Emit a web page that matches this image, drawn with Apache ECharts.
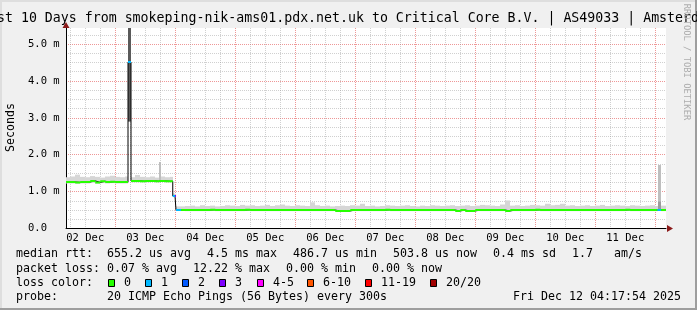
<!DOCTYPE html>
<html><head><meta charset="utf-8">
<script src="https://cdn.jsdelivr.net/npm/echarts@6/dist/echarts.min.js"></script>
<style>html,body{margin:0;padding:0;background:#f0f0f0}#c{width:697px;height:310px}</style>
</head><body><div id="c"></div>
<script>
// ---- time axis: hours since Dec 02 00:00 ----
const startHour = 4.298;   // Dec 02 04:17:54
const endHour = 244.298;   // Dec 12 04:17:54
const dayLabels = ['02 Dec','03 Dec','04 Dec','05 Dec','06 Dec','07 Dec','08 Dec','09 Dec','10 Dec','11 Dec'];
const dayLabelHours = [12,36,60,84,108,132,156,180,204,228];
const midnightHours = [24,48,72,96,120,144,168,192,216,240];
const sixHourHours = [6,12,18,30,36,42,54,60,66,78,84,90,102,108,114,126,132,138,150,156,162,174,180,186,198,204,210,222,228,234];

// ---- value axis (milliseconds) ----
const yMax = 5.434;
const yLabelValues = [0,1,2,3,4,5];
const yLabelTexts = ['0.0','1.0 m','2.0 m','3.0 m','4.0 m','5.0 m'];
const yMajor = [1,2,3,4,5];
const yMinor = [0.25,0.5,0.75,1.25,1.5,1.75,2.25,2.5,2.75,3.25,3.5,3.75,4.25,4.5,4.75,5.25];

// ---- samples ----
const sampleHours = [
  4.298,6,8,10,12,14,16,18,20,22,24,26,28,
  29.1,
  30.3,32,34,36,38,40,41.5,42.3,44,46,
  47.0,47.9,48.3,
  50.3,
  52,54,56,58,60,62,64,66,68,70,
  72,74,76,78,80,82,84,86,88,90,
  92,94,96,98,100,102,104,106,108,110,
  112,114,116,118,120,122,124,126,128,130,
  132,134,136,138,140,142,144,146,148,150,
  152,154,156,158,160,162,164,166,168,170,
  172,174,176,178,180,182,184,186,188,190,
  192,194,196,198,200,202,204,206,208,210,
  212,214,216,218,220,222,224,226,228,230,
  232,234,236,238,240,
  240.9,242.3
];
const medianMs = [
  1.26,1.26,1.25,1.26,1.26,1.29,1.25,1.28,1.26,1.27,1.26,1.26,1.26,
  4.51,
  1.29,1.29,1.28,1.29,1.29,1.28,1.29,1.29,1.28,1.28,
  0.88,0.88,0.50,
  0.50,
  0.50,0.50,0.50,0.50,0.50,0.51,0.50,0.50,0.50,0.50,
  0.50,0.50,0.51,0.50,0.50,0.50,0.50,0.50,0.50,0.50,
  0.50,0.50,0.50,0.50,0.50,0.50,0.50,0.50,0.50,0.50,
  0.475,0.475,0.475,0.50,0.50,0.50,0.50,0.50,0.50,0.50,
  0.51,0.50,0.50,0.50,0.50,0.50,0.50,0.50,0.50,0.50,
  0.50,0.50,0.50,0.50,0.475,0.50,0.475,0.475,0.50,0.50,
  0.50,0.50,0.50,0.50,0.475,0.50,0.50,0.50,0.50,0.50,
  0.51,0.50,0.50,0.50,0.50,0.50,0.50,0.50,0.50,0.50,
  0.50,0.50,0.50,0.50,0.50,0.50,0.50,0.50,0.51,0.50,
  0.50,0.50,0.50,0.50,0.50,
  0.50,0.50
];
const lossCount = [
  0,0,0,0,0,0,0,0,0,0,0,0,0,
  1,
  0,0,0,0,0,0,0,0,0,0,
  1,3,1,
  0,
  0,0,0,0,0,0,0,0,0,0, 0,0,0,0,0,0,0,0,0,0,
  0,0,0,0,0,0,0,0,0,0, 0,0,0,0,0,0,0,0,0,0,
  0,0,0,0,0,0,0,0,0,0, 0,0,0,0,0,0,0,0,0,0,
  0,0,0,0,0,0,0,0,0,0, 0,0,0,0,0,0,0,0,0,0,
  0,0,0,0,0,0,0,0,0,0, 0,0,0,0,0,
  1,0
];
const smokeLoMs = [
  1.22,1.22,1.21,1.22,1.22,1.24,1.21,1.23,1.22,1.23,1.22,1.22,1.22,
  2.90,
  1.25,1.25,1.25,1.25,1.26,1.25,1.25,1.26,1.25,1.25,
  0.85,0.86,0.48,
  0.48,
  0.47,0.47,0.47,0.47,0.47,0.48,0.47,0.47,0.47,0.47,
  0.47,0.47,0.48,0.47,0.47,0.47,0.47,0.47,0.47,0.47,
  0.47,0.47,0.47,0.47,0.47,0.47,0.47,0.47,0.47,0.47,
  0.46,0.46,0.46,0.47,0.47,0.47,0.47,0.47,0.47,0.47,
  0.48,0.47,0.47,0.47,0.47,0.47,0.47,0.47,0.47,0.47,
  0.47,0.47,0.47,0.47,0.46,0.47,0.46,0.46,0.47,0.47,
  0.47,0.47,0.47,0.47,0.46,0.47,0.47,0.47,0.47,0.47,
  0.48,0.47,0.47,0.47,0.47,0.47,0.47,0.47,0.47,0.47,
  0.47,0.47,0.47,0.47,0.47,0.47,0.47,0.47,0.48,0.47,
  0.47,0.47,0.47,0.47,0.47,
  0.48,0.47
];
const smokeHiMs = [
  1.39,1.41,1.46,1.40,1.39,1.42,1.40,1.38,1.41,1.43,1.40,1.39,1.41,
  5.60,
  1.39,1.45,1.40,1.39,1.41,1.38,1.80,1.41,1.39,1.40,
  0.95,0.93,0.60,
  0.60,
  0.61,0.62,0.60,0.63,0.61,0.62,0.60,0.61,0.63,0.62,
  0.61,0.64,0.62,0.63,0.61,0.62,0.64,0.61,0.63,0.65,
  0.62,0.61,0.63,0.62,0.61,0.71,0.63,0.61,0.62,0.60,
  0.61,0.62,0.61,0.63,0.62,0.67,0.61,0.62,0.60,0.61,
  0.63,0.62,0.61,0.62,0.63,0.61,0.60,0.62,0.61,0.63,
  0.62,0.61,0.62,0.63,0.61,0.62,0.63,0.61,0.62,0.64,
  0.63,0.62,0.61,0.65,0.76,0.62,0.63,0.61,0.62,0.64,
  0.63,0.62,0.67,0.63,0.64,0.67,0.62,0.63,0.61,0.62,
  0.63,0.61,0.62,0.64,0.61,0.62,0.63,0.62,0.61,0.63,
  0.62,0.61,0.62,0.63,0.61,
  1.72,0.62
];
// dense (darker) core of the smoke where it stands out
const smokeCoreMs = sampleHours.map(() => null);
smokeCoreMs[13] = 5.60;
smokeCoreMs[sampleHours.length - 2] = 0.73;

const lossClassColors = ['#26ff00','#00b8ff','#0059ff','#7e00ff','#ff00ff','#ff5500','#ff0000','#a10000'];
const lossClassNames = ['0','1','2','3','4-5','6-10','11-19','20/20'];
function lossClass(n){ if(n<=3) return n; if(n<=5) return 4; if(n<=10) return 5; if(n<=19) return 6; return 7; }

// ---- build series data from the arrays ----
const N = sampleHours.length;
const nextHour = i => (i + 1 < N ? sampleHours[i + 1] : endHour);
const smokeData = [];
for (let i = 0; i < N; i++) smokeData.push([sampleHours[i], nextHour(i), smokeLoMs[i], smokeHiMs[i], smokeCoreMs[i] == null ? '-' : smokeCoreMs[i]]);
const medianPts = sampleHours.map((t, i) => [t, medianMs[i]]);
medianPts.push([endHour, medianMs[N - 1]]);
const lossSeriesData = lossClassColors.map(() => []);
for (let i = 0; i < N; i++) {
  const d = lossSeriesData[lossClass(lossCount[i])];
  d.push([sampleHours[i], medianMs[i]]); d.push([nextHour(i), medianMs[i]]); d.push([nextHour(i), null]);
}

const MONO = 'DejaVu Sans Mono';
const MGRID = 'rgba(222,48,48,0.5)';
const GRID = 'rgba(143,143,143,0.42)';

function smokeItem(params, api) {
  const t0 = api.value(0), t1 = api.value(1), lo = api.value(2), hi = api.value(3), core = api.value(4);
  const cs = params.coordSys;
  const clip = { x: cs.x, y: cs.y, width: cs.width, height: cs.height };
  const mk = (a, b, color) => {
    const p0 = api.coord([t0, b]), p1 = api.coord([t1, a]);
    const x0 = Math.round(p0[0]), x1 = Math.round(p1[0]);
    const r = echarts.graphic.clipRectByRect({ x: x0, y: p0[1], width: x1 - x0, height: p1[1] - p0[1] }, clip);
    return r ? { type: 'rect', shape: r, style: { fill: color } } : null;
  };
  const children = [];
  const outer = mk(lo, hi, hi - lo > 0.5 ? '#bebebe' : '#d6d6d6');
  if (outer) children.push(outer);
  if (!isNaN(core)) { const c = mk(lo, core, core - lo > 1 ? '#5a5a5a' : '#9c9c9c'); if (c) children.push(c); }
  return { type: 'group', children };
}

const series = [
  { type: 'custom', name: 'smoke', renderItem: smokeItem, data: smokeData, encode: { x: [0, 1], y: [2, 3] }, z: 2, silent: true },
  { type: 'line', name: 'median', data: medianPts, step: 'end', symbol: 'none', lineStyle: { color: '#000', width: 1 }, z: 3, silent: true,
    markPoint: { symbol: 'triangle', silent: true, animation: false, label: { show: false }, data: [
      { coord: [endHour, 0], symbolSize: [7, 6], symbolRotate: -90, symbolOffset: [4, 0], itemStyle: { color: '#8b1a1a' } },
      { coord: [startHour, yMax], symbolSize: [7, 6], symbolOffset: [0, -3], itemStyle: { color: '#8b1a1a' } }
    ] } }
];
lossSeriesData.forEach((d, c) => {
  if (!d.length) return;
  series.push({ type: 'line', name: 'loss ' + lossClassNames[c], data: d, symbol: 'none', connectNulls: false,
    lineStyle: { color: lossClassColors[c], width: 2 }, z: 4, silent: true });
});

// ---- legend / texts ----
const legendRows = [
  { y: 254, items: [[16, 'median rtt:'], [107, '655.2 us avg'], [207, '4.5 ms max'], [293, '486.7 us min'], [393, '503.8 us now'], [493, '0.4 ms sd'], [572, '1.7'], [614, 'am/s']] },
  { y: 268.5, items: [[16, 'packet loss:'], [107, '0.07 % avg'], [193, '12.22 % max'], [286, '0.00 % min'], [372, '0.00 % now']] },
  { y: 282.5, items: [[16, 'loss color:']] },
  { y: 296.5, items: [[16, 'probe:'], [107, '20 ICMP Echo Pings (56 Bytes) every 300s'], [513, 'Fri Dec 12 04:17:54 2025']] }
];
const lossSquareX = [108, 145, 182, 219, 257, 307, 365, 430];

const graphic = [];
graphic.push({ type: 'rect', shape: { x: 0, y: 0, width: 697, height: 2 }, style: { fill: '#dedede' }, silent: true });
graphic.push({ type: 'rect', shape: { x: 0, y: 0, width: 2, height: 310 }, style: { fill: '#dedede' }, silent: true });
graphic.push({ type: 'rect', shape: { x: 695, y: 0, width: 2, height: 310 }, style: { fill: '#9e9e9e' }, silent: true });
graphic.push({ type: 'rect', shape: { x: 0, y: 308, width: 697, height: 2 }, style: { fill: '#9e9e9e' }, silent: true });
graphic.push({ type: 'text', x: 348, y: 19, silent: true, style: { text: 'Last 10 Days from smokeping-nik-ams01.pdx.net.uk to Critical Core B.V. | AS49033 | Amsterdam', fontFamily: MONO, fontSize: 13.25, fill: '#000', align: 'center', verticalAlign: 'middle' } });
graphic.push({ type: 'text', x: 10.5, y: 127.5, rotation: Math.PI / 2, silent: true, style: { text: 'Seconds', fontFamily: MONO, fontSize: 11.6, fill: '#000', align: 'center', verticalAlign: 'middle' } });
graphic.push({ type: 'text', x: 686, y: 62, rotation: -Math.PI / 2, silent: true, style: { text: 'RRDTOOL / TOBI OETIKER', fontFamily: MONO, fontSize: 8.8, fill: '#adadad', align: 'center', verticalAlign: 'middle' } });
legendRows.forEach(r => r.items.forEach(([x, t]) => {
  graphic.push({ type: 'text', x: x, y: r.y, silent: true, style: { text: t, fontFamily: MONO, fontSize: 11.63, fill: '#000', align: 'left', verticalAlign: 'middle' } });
}));
lossSquareX.forEach((x, c) => {
  graphic.push({ type: 'rect', silent: true, shape: { x: x + 0.5, y: 279.5, width: 6, height: 7 }, style: { fill: lossClassColors[c], stroke: '#000', lineWidth: 1 } });
  graphic.push({ type: 'text', x: x + 16, y: 282.5, silent: true, style: { text: lossClassNames[c], fontFamily: MONO, fontSize: 11.63, fill: '#000', align: 'left', verticalAlign: 'middle' } });
});

const chart = echarts.init(document.getElementById('c'), null, { renderer: 'canvas' });
chart.setOption({
  backgroundColor: '#f0f0f0',
  animation: false,
  grid: { left: 66, right: 31, top: 28, bottom: 81.5, show: true, backgroundColor: '#ffffff', borderWidth: 0, outerBoundsMode: 'none' },
  xAxis: [
    { type: 'value', min: startHour, max: endHour, position: 'bottom',
      axisLine: { show: true, onZero: false, lineStyle: { color: '#000', width: 1 } },
      axisTick: { show: false, customValues: midnightHours },
      splitLine: { show: true, lineStyle: { color: MGRID, width: 1, type: [1, 1] } },
      axisLabel: { show: true, customValues: dayLabelHours, formatter: v => dayLabels[dayLabelHours.indexOf(Math.round(v))] || '',
        fontFamily: MONO, fontSize: 10.5, color: '#000', margin: 4 } },
    { type: 'value', min: startHour, max: endHour, position: 'top',
      axisLine: { show: false }, axisTick: { show: false, customValues: sixHourHours }, axisLabel: { show: false },
      splitLine: { show: true, lineStyle: { color: GRID, width: 1, type: [1, 1] } } }
  ],
  yAxis: [
    { type: 'value', min: 0, max: yMax, position: 'left',
      axisLine: { show: true, onZero: false, lineStyle: { color: '#000', width: 1 } },
      axisTick: { show: false, customValues: yMajor },
      splitLine: { show: true, lineStyle: { color: MGRID, width: 1, type: [1, 1] } },
      axisLabel: { show: true, customValues: yLabelValues, formatter: v => yLabelTexts[yLabelValues.indexOf(Math.round(v))] || '',
        align: 'left', margin: 38, fontFamily: MONO, fontSize: 10.5, color: '#000' } },
    { type: 'value', min: 0, max: yMax, position: 'right',
      axisLine: { show: false }, axisTick: { show: false, customValues: yMinor }, axisLabel: { show: false },
      splitLine: { show: true, lineStyle: { color: GRID, width: 1, type: [1, 1] } } }
  ],
  series: series,
  graphic: graphic
});
</script>
</body></html>
